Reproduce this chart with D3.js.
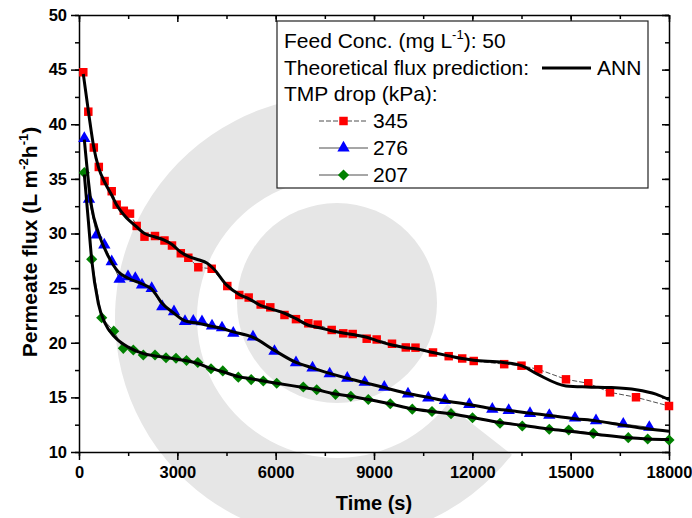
<!DOCTYPE html>
<html>
<head>
<meta charset="utf-8">
<script src="https://cdn.jsdelivr.net/npm/d3@7"></script>
<style>
body { margin: 0; background: #fff; }
text { font-family: "Liberation Sans", Arial, sans-serif; }
.axis path, .axis line { stroke: #000; stroke-width: 1.5px; }
.axis text { font-size: 16.5px; font-weight: bold; fill: #000; }
</style>
</head>
<body>
<div id="chart"></div>
<script>
// measured data, 345 kPa
var timeRed = [131, 284, 452, 604, 781, 998, 1150, 1367, 1556, 1760, 1998, 2319, 2608, 2837, 3106, 3335, 3640, 4048, 4524, 4890, 5177, 5543, 5836, 6269, 6620, 6996, 7282, 7709, 8063, 8350, 8777, 9082, 9549, 9970, 10266, 10800, 11279, 11691, 12042, 12972, 13500, 14012, 14857, 15537, 16200, 16993, 18000];
var fluxRed = [44.76, 41.15, 37.87, 36.09, 34.8, 33.87, 32.64, 32.08, 31.82, 30.69, 29.71, 29.77, 29.36, 28.9, 28.19, 27.78, 26.91, 26.77, 25.19, 24.37, 24.14, 23.5, 23.24, 22.54, 22.16, 21.78, 21.66, 21.17, 20.86, 20.8, 20.37, 20.3, 19.91, 19.57, 19.55, 19.11, 18.77, 18.56, 18.33, 18.04, 17.9, 17.57, 16.65, 16.29, 15.46, 15.01, 14.21];

// 276 kPa
var timeBlue = [162, 305, 540, 772, 998, 1239, 1495, 1718, 1922, 2218, 2541, 2898, 3234, 3487, 3752, 4058, 4363, 4707, 5308, 5964, 6620, 7124, 7648, 8185, 8716, 9314, 10037, 10656, 11166, 11907, 12609, 13109, 13759, 14348, 15132, 15773, 16605, 17399];
var fluxBlue = [38.71, 33.13, 29.86, 28.95, 27.42, 25.81, 26.05, 25.9, 25.29, 24.98, 23.3, 22.84, 21.95, 21.99, 21.93, 21.55, 21.37, 20.87, 20.53, 19.22, 18.17, 17.69, 17.16, 16.76, 16.38, 15.93, 15.31, 14.96, 14.73, 14.35, 13.92, 13.8, 13.54, 13.36, 13.11, 12.87, 12.56, 12.26];

// 207 kPa
var timeGreen = [162, 387, 693, 1059, 1352, 1657, 1962, 2319, 2654, 2959, 3280, 3624, 4027, 4387, 4860, 5253, 5623, 6032, 6843, 7252, 7825, 8292, 8826, 9497, 10168, 10769, 11349, 12005, 12844, 13524, 14348, 14940, 15690, 16758, 17350, 18000];
var fluxGreen = [35.57, 27.64, 22.29, 21.06, 19.49, 19.34, 18.88, 18.88, 18.63, 18.58, 18.38, 18.19, 17.62, 17.42, 16.85, 16.63, 16.5, 16.29, 15.95, 15.7, 15.28, 15.1, 14.81, 14.42, 13.92, 13.71, 13.51, 13.13, 12.63, 12.38, 12.08, 12.01, 11.71, 11.31, 11.19, 11.1];

// ANN predictions
var annTimeRed = [131, 300, 450, 600, 800, 1000, 1150, 1400, 1760, 2000, 2300, 2600, 2840, 3100, 3340, 3640, 3900, 4100, 4500, 4900, 5200, 5550, 5850, 6270, 6620, 7000, 7300, 7700, 8060, 8350, 8780, 9080, 9550, 9970, 10270, 10800, 11280, 11690, 12040, 12940, 13500, 14000, 14860, 15500, 16200, 17000, 17600, 18000];
var annRed = [44.6, 40.9, 37.9, 36.0, 34.6, 33.5, 32.6, 31.6, 30.6, 30.0, 29.7, 29.4, 29.0, 28.3, 27.9, 27.6, 27.3, 26.8, 25.3, 24.4, 24.0, 23.4, 23.1, 22.7, 22.2, 21.6, 21.4, 21.1, 20.9, 20.75, 20.5, 20.2, 19.8, 19.55, 19.45, 19.1, 18.8, 18.55, 18.4, 18.2, 17.9, 17.1, 16.05, 15.95, 15.9, 15.7, 15.3, 14.8];
var annTimeBlue = [162, 387, 589, 894, 1199, 1504, 1913, 2218, 2541, 2898, 3234, 3600, 4058, 4363, 4707, 5308, 5964, 6620, 7124, 7648, 8185, 8716, 9314, 10037, 10656, 11166, 11907, 12609, 13109, 13759, 14348, 15132, 15773, 16605, 17399, 18000];
var annBlue = [38.6, 32.4, 30.1, 27.9, 26.5, 25.9, 25.4, 24.9, 23.6, 22.7, 22.0, 21.8, 21.5, 21.3, 21.0, 20.5, 19.3, 18.2, 17.7, 17.2, 16.75, 16.35, 15.9, 15.35, 15.0, 14.7, 14.35, 13.95, 13.8, 13.55, 13.35, 13.05, 12.85, 12.45, 12.1, 11.9];
var annTimeGreen = [162, 284, 387, 589, 793, 1098, 1504, 1962, 2319, 2654, 2959, 3280, 3624, 4027, 4387, 4860, 5253, 5623, 6032, 6843, 7252, 7825, 8292, 8826, 9497, 10168, 10769, 11349, 12005, 12844, 13524, 14348, 14940, 15690, 16758, 17350, 18000];
var annGreen = [35.4, 31.2, 27.6, 23.6, 21.8, 20.5, 19.6, 19.0, 18.8, 18.65, 18.5, 18.35, 18.1, 17.65, 17.35, 16.9, 16.7, 16.5, 16.3, 15.9, 15.7, 15.3, 15.1, 14.8, 14.4, 13.95, 13.7, 13.5, 13.15, 12.7, 12.45, 12.1, 11.9, 11.65, 11.3, 11.2, 11.15];

var xTicks = [0, 3000, 6000, 9000, 12000, 15000, 18000];
var yTicks = [10, 15, 20, 25, 30, 35, 40, 45, 50];
var legendLabels = ["345", "276", "207"];

var width = 692, height = 518;
var margin = {top: 15, right: 23, bottom: 66, left: 79};

var svg = d3.select("#chart").append("svg")
	.attr("width", width)
	.attr("height", height);

// faint watermark in the background
var wm = svg.append("g").attr("fill", "#e6e6e6");
wm.append("circle").attr("cx", 337).attr("cy", 303).attr("r", 100);
wm.append("path")
	.attr("transform", "translate(337,318)")
	.attr("d", d3.arc().innerRadius(140).outerRadius(222)
		.startAngle(128 * Math.PI / 180).endAngle(362 * Math.PI / 180)());

var x = d3.scaleLinear().domain([0, 18000]).range([margin.left, width - margin.right]);
var y = d3.scaleLinear().domain([10, 50]).range([height - margin.bottom, margin.top]);

var x0 = x.range()[0], x1 = x.range()[1];
var y0 = y.range()[0], y1 = y.range()[1];

function minorTicks(scale, step) {
	var d = scale.domain(), out = [];
	for (var v = d[0]; v <= d[1] + 1e-9; v += step) out.push(v);
	return out;
}

// bottom axis (outward ticks)
svg.append("g").attr("class", "axis")
	.attr("transform", "translate(0," + y0 + ")")
	.call(d3.axisBottom(x).tickValues(minorTicks(x, 1500)).tickSize(4).tickFormat(""))
	.call(function(g) { g.select(".domain").remove(); });
svg.append("g").attr("class", "axis")
	.attr("transform", "translate(0," + y0 + ")")
	.call(d3.axisBottom(x).tickValues(xTicks).tickSize(8).tickSizeOuter(0).tickPadding(6).tickFormat(d3.format("d")));

// left axis
svg.append("g").attr("class", "axis")
	.attr("transform", "translate(" + x0 + ",0)")
	.call(d3.axisLeft(y).tickValues(minorTicks(y, 2.5)).tickSize(4).tickFormat(""))
	.call(function(g) { g.select(".domain").remove(); });
svg.append("g").attr("class", "axis")
	.attr("transform", "translate(" + x0 + ",0)")
	.call(d3.axisLeft(y).tickValues(yTicks).tickSize(8).tickSizeOuter(0).tickPadding(4));

// top and right mirror axes, ticks inside
svg.append("g").attr("class", "axis")
	.attr("transform", "translate(0," + y1 + ")")
	.call(d3.axisBottom(x).tickValues(minorTicks(x, 1500)).tickSize(4).tickSizeOuter(0).tickFormat(""));
svg.append("g").attr("class", "axis")
	.attr("transform", "translate(0," + y1 + ")")
	.call(d3.axisBottom(x).tickValues(xTicks).tickSize(7).tickFormat(""))
	.call(function(g) { g.select(".domain").remove(); });
svg.append("g").attr("class", "axis")
	.attr("transform", "translate(" + x1 + ",0)")
	.call(d3.axisLeft(y).tickValues(minorTicks(y, 2.5)).tickSize(4).tickSizeOuter(0).tickFormat(""));
svg.append("g").attr("class", "axis")
	.attr("transform", "translate(" + x1 + ",0)")
	.call(d3.axisLeft(y).tickValues(yTicks).tickSize(7).tickFormat(""))
	.call(function(g) { g.select(".domain").remove(); });

// axis titles
svg.append("text")
	.attr("x", (x0 + x1) / 2).attr("y", 510)
	.attr("text-anchor", "middle")
	.style("font-size", "20px").style("font-weight", "bold")
	.text("Time (s)");

var yt = svg.append("text")
	.attr("transform", "translate(37," + 242 + ") rotate(-90)")
	.attr("text-anchor", "middle")
	.style("font-size", "21px").style("font-weight", "bold");
yt.append("tspan").text("Permeate flux (L m");
yt.append("tspan").attr("dy", -9).style("font-size", "13px").text("-2");
yt.append("tspan").attr("dy", 9).text("h");
yt.append("tspan").attr("dy", -9).style("font-size", "13px").text("-1");
yt.append("tspan").attr("dy", 9).text(")");

var series = [
	{t: timeRed, v: fluxRed, at: annTimeRed, av: annRed, color: "#ff0000", shape: "square", dash: "5,2"},
	{t: timeBlue, v: fluxBlue, at: annTimeBlue, av: annBlue, color: "#0000ff", shape: "triangle", dash: null},
	{t: timeGreen, v: fluxGreen, at: annTimeGreen, av: annGreen, color: "#008000", shape: "diamond", dash: null}
];

var sym = {
	square: d3.symbol().type(d3.symbolSquare).size(72),
	triangle: d3.symbol().type(d3.symbolTriangle).size(66),
	diamond: d3.symbol().type(d3.symbolSquare).size(62)
};

function drawMarker(g, shape, cx, cy, color) {
	var rot = shape == "diamond" ? " rotate(45)" : "";
	g.append("path")
		.attr("d", sym[shape]())
		.attr("transform", "translate(" + cx + "," + cy + ")" + rot)
		.attr("fill", color);
}

var lineGen = d3.line()
	.x(function(d) { return x(d[0]); })
	.y(function(d) { return y(d[1]); });

var plot = svg.append("g");

series.forEach(function(s) {
	var pts = s.t.map(function(t, i) { return [t, s.v[i]]; });
	// thin connecting line of the measured points
	plot.append("path")
		.datum(pts)
		.attr("fill", "none")
		.attr("stroke", "#222")
		.attr("stroke-width", 0.8)
		.attr("stroke-dasharray", s.dash)
		.attr("d", lineGen);
	var mg = plot.append("g");
	pts.forEach(function(p) { drawMarker(mg, s.shape, x(p[0]), y(p[1]), s.color); });
});

// ANN curves on top
series.forEach(function(s) {
	var pts = s.at.map(function(t, i) { return [t, s.av[i]]; });
	plot.append("path")
		.datum(pts)
		.attr("fill", "none")
		.attr("stroke", "#000")
		.attr("stroke-width", 3)
		.attr("stroke-linejoin", "round")
		.attr("d", lineGen.curve(d3.curveMonotoneX));
});

// legend
var lg = svg.append("g");
lg.append("rect")
	.attr("x", 277).attr("y", 21).attr("width", 371).attr("height", 167)
	.attr("fill", "#fff").attr("stroke", "#222").attr("stroke-width", 1.2);

var t1 = lg.append("text").attr("x", 284).attr("y", 48).style("font-size", "21px");
t1.append("tspan").text("Feed Conc. (mg L");
t1.append("tspan").attr("dy", -9).style("font-size", "13px").text("-1");
t1.append("tspan").attr("dy", 9).text("): 50");

lg.append("text").attr("x", 284).attr("y", 75).style("font-size", "21px")
	.text("Theoretical flux prediction:");
lg.append("line").attr("x1", 542).attr("x2", 591).attr("y1", 68).attr("y2", 68)
	.attr("stroke", "#000").attr("stroke-width", 3);
lg.append("text").attr("x", 597).attr("y", 75).style("font-size", "21px").text("ANN");

lg.append("text").attr("x", 284).attr("y", 101).style("font-size", "21px")
	.text("TMP drop (kPa):");

series.forEach(function(s, i) {
	var cy = 121 + i * 27;
	lg.append("line").attr("x1", 319).attr("x2", 368).attr("y1", cy).attr("y2", cy)
		.attr("stroke", "#222").attr("stroke-width", 0.8).attr("stroke-dasharray", s.dash);
	drawMarker(lg, s.shape, 343.5, cy, s.color);
	lg.append("text").attr("x", 373).attr("y", cy + 7).style("font-size", "21px").text(legendLabels[i]);
});
</script>
</body>
</html>
